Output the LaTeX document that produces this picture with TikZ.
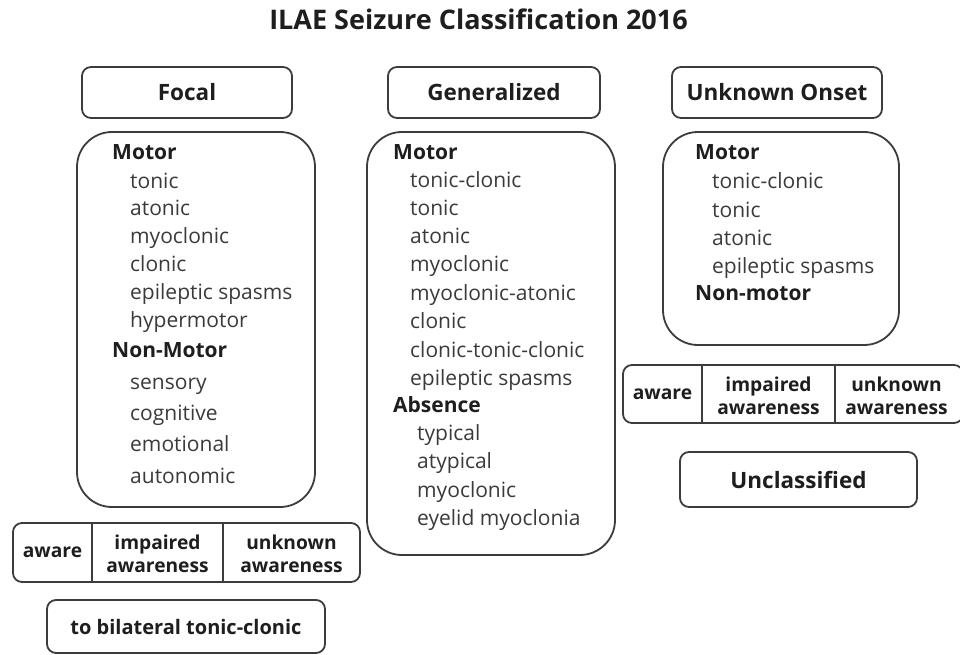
\documentclass[tikz,border=0pt]{standalone}
\usepackage{fontspec}
\setmainfont{Open Sans}
\definecolor{hdc}{HTML}{1E1E1E}
\definecolor{itc}{HTML}{3A3A3A}
\definecolor{boxc}{HTML}{3C3C3C}
\begin{document}
\begin{tikzpicture}[x=1pt,y=-1pt,
  box/.style={draw=boxc, line width=1.8pt, rounded corners=9pt, inner sep=0pt},
  big/.style={draw=boxc, line width=1.8pt, rounded corners=35pt, inner sep=0pt},
  hd/.style={font=\fontsize{22.5}{26}\selectfont\bfseries, text=hdc},
  it/.style={anchor=base west, inner sep=0pt, font=\fontsize{21}{24}\selectfont, text=itc},
  cat/.style={anchor=base west, inner sep=0pt, font=\fontsize{21}{24}\selectfont\bfseries, text=hdc},
  aw/.style={font=\fontsize{19.2}{23}\selectfont\bfseries, text=hdc, align=center, inner sep=0pt}]
\useasboundingbox (0,0) rectangle (960,655);
% title
\node[font=\fontsize{27}{30}\selectfont\bfseries, text=hdc, anchor=base, inner sep=0pt] (title) at (478.5,30) {ILAE Seizure Classification 2016};
% headers
\node[box, hd, minimum width=210pt, minimum height=51pt] (focal) at (187,92.5) {Focal};
\node[box, hd, minimum width=212pt, minimum height=51pt] (gen) at (494,92.5) {Generalized};
\node[box, hd, minimum width=210pt, minimum height=51pt] (unk) at (777,92.5) {Unknown Onset};
% content boxes
\node[big, minimum width=238pt, minimum height=375pt] (focalc) at (196,319.5) {};
\node[big, minimum width=248pt, minimum height=423pt] (genc) at (491,343.5) {};
\node[big, minimum width=236pt, minimum height=213pt] (unkc) at (781,238.5) {};
% focal items
\node[cat] (f1) at (112,160) {Motor};
\node[it] (f2) at (130,188) {tonic};
\node[it] (f3) at (130,215) {atonic};
\node[it] (f4) at (130,243) {myoclonic};
\node[it] (f5) at (130,271) {clonic};
\node[it] (f6) at (130,299) {epileptic spasms};
\node[it] (f7) at (130,327) {hypermotor};
\node[cat] (f8) at (112,357) {Non-Motor};
\node[it] (f9) at (130,389) {sensory};
\node[it] (f10) at (130,420) {cognitive};
\node[it] (f11) at (130,451) {emotional};
\node[it] (f12) at (130,483) {autonomic};
% generalized items
\node[cat] (g1) at (393,160) {Motor};
\node[it] (g2) at (410,187) {tonic-clonic};
\node[it] (g3) at (410,215) {tonic};
\node[it] (g4) at (410,243) {atonic};
\node[it] (g5) at (410,271) {myoclonic};
\node[it] (g6) at (410,300) {myoclonic-atonic};
\node[it] (g7) at (410,328) {clonic};
\node[it] (g8) at (410,357) {clonic-tonic-clonic};
\node[it] (g9) at (410,385) {epileptic spasms};
\node[cat] (g10) at (393,412) {Absence};
\node[it] (g11) at (417,440) {typical};
\node[it] (g12) at (417,468) {atypical};
\node[it] (g13) at (417,497) {myoclonic};
\node[it] (g14) at (417,525) {eyelid myoclonia};
% unknown items
\node[cat] (u1) at (695,160) {Motor};
\node[it] (u2) at (712,188) {tonic-clonic};
\node[it] (u3) at (712,217) {tonic};
\node[it] (u4) at (712,245) {atonic};
\node[it] (u5) at (712,273) {epileptic spasms};
\node[cat] (u6) at (695,300) {Non-motor};
% focal awareness bar
\node[box, minimum width=347pt, minimum height=59pt] (fbar) at (186.5,552.5) {};
\draw[draw=boxc, line width=1.8pt] (92,0 |- fbar.north) -- (92,0 |- fbar.south);
\draw[draw=boxc, line width=1.8pt] (223,0 |- fbar.north) -- (223,0 |- fbar.south);
\node[aw] (fa1) at (52.5,552.5) {aware};
\node[aw] (fa2) at (157.5,554) {impaired\\awareness};
\node[aw] (fa3) at (291.5,554) {unknown\\awareness};
% unknown awareness bar
\node[box, minimum width=340pt, minimum height=58pt] (ubar) at (793,394) {};
\draw[draw=boxc, line width=1.8pt] (702,0 |- ubar.north) -- (702,0 |- ubar.south);
\draw[draw=boxc, line width=1.8pt] (835,0 |- ubar.north) -- (835,0 |- ubar.south);
\node[aw] (ua1) at (662.5,394) {aware};
\node[aw] (ua2) at (768.5,395.5) {impaired\\awareness};
\node[aw] (ua3) at (896.5,395.5) {unknown\\awareness};
% bottom boxes
\node[box, minimum width=278pt, minimum height=53pt, font=\fontsize{20}{23}\selectfont\bfseries, text=hdc] (bil) at (186,626.5) {to bilateral tonic-clonic};
\node[box, hd, minimum width=237pt, minimum height=55pt] (uncl) at (798.5,479.5) {Unclassified};
\end{tikzpicture}
\end{document}
